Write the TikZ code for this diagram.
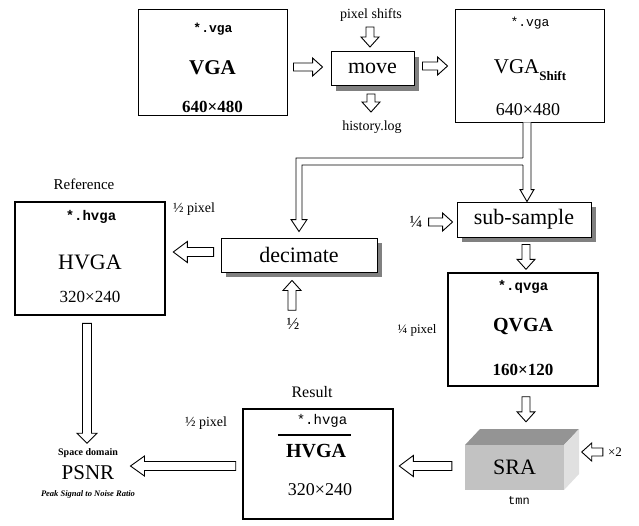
\documentclass[tikz,border=0pt]{standalone}
\usepackage{fontspec}
\setmainfont{Liberation Serif}
\setmonofont{Liberation Mono}
\usetikzlibrary{calc,shadows}

\newcommand\fsz[1]{\fontsize{#1}{#1}\selectfont}

% hollow block arrow from #2 to #3; #1 = shaft half-width/head half-width/head length
\newcommand\blockarrow[3][4/9/10]{%
  \path let \p1=(#2), \p2=(#3) in
    \pgfextra{%
      \pgfmathsetmacro\baang{atan2(\y2-\y1,\x2-\x1)}%
      \pgfmathsetmacro\balen{veclen(\x2-\x1,\y2-\y1)}%
      \xdef\baang{\baang}\xdef\balen{\balen}%
      \xdef\bax{\x1}\xdef\bay{\y1}};
  \foreach \bs/\bw/\bl in {#1}{%
    \draw[hollow, shift={(\bax,\bay)}, rotate=\baang]
      (0pt,-\bs pt) -- ({\balen pt-\bl pt},-\bs pt) -- ({\balen pt-\bl pt},-\bw pt)
      -- (\balen pt,0pt) -- ({\balen pt-\bl pt},\bw pt) -- ({\balen pt-\bl pt},\bs pt)
      -- (0pt,\bs pt) -- cycle;}%
}

\begin{document}
\begin{tikzpicture}[x=1pt,y=-1pt,
  hollow/.style={draw=black, fill=white, line width=0.9pt, line join=miter},
  framebox/.style={draw=black, fill=white, line width=0.9pt, inner sep=0pt},
  heavybox/.style={framebox, line width=2.6pt},
  stepbox/.style={draw=black, fill=white, line width=0.9pt, inner sep=0pt,
    drop shadow={shadow xshift=5pt, shadow yshift=-5pt, fill=black!50, opacity=1},
    font=\fsz{22}},
  lbl/.style={inner sep=0pt, anchor=center}]

\useasboundingbox (0,0) rectangle (639,525);

% ---------- top row ----------
\node[framebox, minimum width=149pt, minimum height=106pt] (vga) at (212.5,62) {};
\node[lbl] (vgaext) at (213,29) {\fsz{13}\ttfamily\bfseries *.vga};
\node[lbl] (vganame) at (212.5,68) {\fsz{21}\bfseries VGA};
\node[lbl] (vgasize) at (212.5,107) {\fsz{17}\bfseries 640×480};

\node[stepbox, minimum width=83pt, minimum height=34pt] (move) at (372.5,68.5) {move};
\node[lbl] (shifts) at (371,15) {\fsz{14}pixel shifts};
\node[lbl] (hist) at (372,127) {\fsz{14}history.log};
\coordinate (shiftsIn) at (370,27);
\coordinate (moveTopIn) at (370,47);
\coordinate (moveOut) at (371,94);
\coordinate (histIn) at (371,112);

\node[framebox, minimum width=149pt, minimum height=113pt] (vgas) at (529.5,65.5) {};
\node[lbl] (vgasext) at (530,23) {\fsz{13}\ttfamily *.vga};
\node[lbl] (vgasname) at (530,70) {\fsz{21}VGA\raisebox{-0.3em}{\fsz{13}\bfseries Shift}};
\node[lbl] (vgassize) at (528,110) {\fsz{18}640×480};

% ---------- middle row ----------
\node[lbl] (refcap) at (84,184) {\fsz{15}Reference};
\node[lbl] (refpix) at (194,209) {\fsz{14}½ pixel};
\node[heavybox, minimum width=150pt, minimum height=113pt] (ref) at (90,258.5) {};
\node[lbl] (refext) at (91,217) {\fsz{14}\ttfamily\bfseries *.hvga};
\node[lbl] (refname) at (90,262) {\fsz{22}HVGA};
\node[lbl] (refsize) at (90,297) {\fsz{17}320×240};

\node[stepbox, minimum width=156pt, minimum height=34pt] (dec) at (299,255) {decimate};
\node[lbl] (half) at (293,324) {\fsz{17}½};

\node[stepbox, minimum width=134pt, minimum height=35pt] (sub) at (524,219.5) {sub-sample};
\node[lbl] (quarter) at (416,222) {\fsz{17}¼};

\node[framebox, line width=1.4pt, minimum width=150pt, minimum height=113pt] (qvga) at (523,329.5) {};
\node[lbl] (qvgaext) at (523,287) {\fsz{14}\ttfamily\bfseries *.qvga};
\node[lbl] (qvganame) at (523,326) {\fsz{20}\bfseries QVGA};
\node[lbl] (qvgasize) at (523,370) {\fsz{17}\bfseries 160×120};
\node[lbl] (qpix) at (417,330) {\fsz{13}¼ pixel};

% ---------- bottom row ----------
% SRA drawn as a shaded block
\coordinate (sraA) at (465,445);
\coordinate (sraB) at (564,445);
\coordinate (sraC) at (564,490);
\coordinate (sraD) at (465,490);
\fill[black!42] (sraA) -- ++(15,-16) -- ($(sraB)+(15,-16)$) -- (sraB) -- cycle;
\fill[black!12] (sraB) -- ++(15,-16) -- ($(sraC)+(15,-16)$) -- (sraC) -- cycle;
\fill[black!24] (sraA) rectangle (sraC);
\node[inner sep=0pt, minimum width=99pt, minimum height=45pt] (sra) at (514.5,467.5) {\fsz{22}SRA};
\node[lbl] (tmn) at (519,501) {\fsz{12}\ttfamily tmn};
\node[lbl] (times2) at (615,452) {\fsz{13}×2};

\node[lbl] (rescap) at (312,392) {\fsz{16}Result};
\node[heavybox, minimum width=150pt, minimum height=110pt] (res) at (318,464) {};
\node[lbl] (resext) at (322,421) {\fsz{14}\ttfamily *.hvga};
\draw[line width=2pt] (278,435) -- (351,435);
\node[lbl] (resname) at (316,451) {\fsz{20}\bfseries HVGA};
\node[lbl] (ressize) at (320,490) {\fsz{18}320×240};
\node[lbl] (respix) at (206,423) {\fsz{14}½ pixel};

\node[lbl] (psnrcap) at (88,453) {\fsz{10}\bfseries Space domain};
\node[lbl] (psnr) at (88,473) {\fsz{21}PSNR};
\node[lbl] (psnrsub) at (88,494) {\fsz{8.5}\bfseries\itshape Peak Signal to Noise Ratio};

% ---------- connectors ----------
\blockarrow{$(vga.east)+(6,5)$}{$(move.west)+(-8,-1.5)$}
\blockarrow{$(move.east)+(8,-2.5)$}{$(vgas.west)+(-7,0.5)$}
\blockarrow{shiftsIn}{moveTopIn}
\blockarrow{moveOut}{histIn}

% split from VGA_Shift to sub-sample and decimate
\draw[hollow] let \p1=($(vgas.south)+(-2.5,0)$), \p2=($(sub.north)+(3.5,0)$), \p3=(dec.north) in
  (\x1-4pt,\y1) -- (\x1-4pt,-158pt) -- (\x3-3pt,-158pt) -- (\x3-3pt,\y3+18pt)
  -- (\x3-8pt,\y3+18pt) -- (\x3,\y3+6pt) -- (\x3+8pt,\y3+18pt) -- (\x3+3pt,\y3+18pt)
  -- (\x3+3pt,-165pt) -- (\x1-4pt,-165pt) -- (\x1-4pt,\y2+12pt)
  -- (\x1-7pt,\y2+12pt) -- (\x1,\y2) -- (\x1+7pt,\y2+12pt) -- (\x1+4pt,\y2+12pt)
  -- (\x1+4pt,\y1);
\fill[white] let \p1=($(vgas.south)+(-2.5,0)$) in (\x1-4.45pt,-158.45pt) rectangle (\x1-3.55pt,-164.55pt);

\blockarrow[4.5/10.5/14]{$(dec.west)+(-7,-3)$}{$(ref.east)+(7,-6.5)$}
\blockarrow{$(half.north)+(-1,-8)$}{$(dec.south)+(-7,8)$}
\blockarrow{$(quarter.east)+(6,0)$}{$(sub.west)+(-4,2.5)$}
\blockarrow{$(sub.south)+(2,7)$}{$(qvga.north)+(3,-3)$}
\blockarrow{$(qvga.south)+(3,10)$}{$(sra.north)+(11.5,-23)$}
\blockarrow{$(times2.west)+(-5,0)$}{$(sra.east)+(17.5,-15.5)$}
\blockarrow[4.5/10.5/14]{$(sra.west)+(-13,-1.5)$}{$(res.east)+(5,2)$}
\blockarrow[4.5/10/14]{$(res.west)+(-6,2)$}{$(psnr.east)+(16,-7)$}
\blockarrow[4.5/10/10]{$(ref.south)+(-3,7)$}{$(psnrcap.north)+(-1,-5)$}
\end{tikzpicture}
\end{document}
